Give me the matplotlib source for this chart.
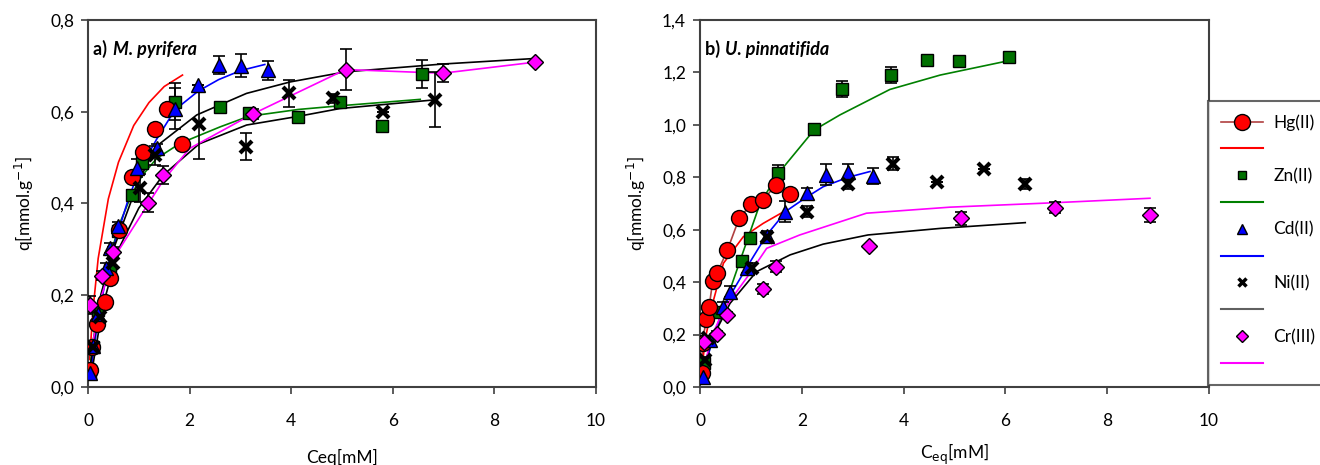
import matplotlib
matplotlib.use("Agg")
import matplotlib.pyplot as plt
from matplotlib.ticker import FuncFormatter, MultipleLocator
from matplotlib.lines import Line2D

plt.rcParams['font.family'] = ['Lato', 'DejaVu Sans']

# ---------------- a) M. pyrifera ----------------
a_hg_x = [0.03, 0.07, 0.17, 0.33, 0.43, 0.62, 0.86, 1.09, 1.32, 1.55, 1.86]
a_hg_y = [0.036, 0.088, 0.137, 0.186, 0.237, 0.342, 0.458, 0.513, 0.562, 0.607, 0.53]
a_hg_e = [0, 0, 0, 0, 0, 0, 0, 0, 0, 0, 0]
a_hg_fx = [0.03, 0.1, 0.2, 0.4, 0.6, 0.9, 1.2, 1.5, 1.86]
a_hg_fy = [0.06, 0.17, 0.28, 0.41, 0.49, 0.57, 0.62, 0.655, 0.68]

a_zn_x = [0.03, 0.1, 0.2, 0.43, 0.6, 0.86, 1.06, 1.71, 2.6, 3.16, 4.14, 4.96, 5.78, 6.57]
a_zn_y = [0.03, 0.088, 0.168, 0.255, 0.34, 0.419, 0.488, 0.622, 0.61, 0.597, 0.588, 0.622, 0.57, 0.682]
a_zn_e = [0, 0, 0, 0.01, 0.01, 0.01, 0.01, 0.04, 0, 0, 0, 0, 0, 0.03]
a_zn_fx = [0.03, 0.1, 0.2, 0.43, 0.6, 0.86, 1.06, 1.35, 1.81, 2.6, 3.16, 4.14, 4.96, 6.54]
a_zn_fy = [0.03, 0.1, 0.17, 0.28, 0.35, 0.42, 0.46, 0.498, 0.531, 0.567, 0.59, 0.605, 0.613, 0.627]

a_cd_x = [0.04, 0.1, 0.2, 0.35, 0.43, 0.6, 0.96, 1.35, 1.71, 2.17, 2.57, 3.01, 3.55]
a_cd_y = [0.03, 0.09, 0.16, 0.26, 0.303, 0.35, 0.477, 0.52, 0.607, 0.658, 0.702, 0.70, 0.69]
a_cd_e = [0, 0, 0, 0.01, 0.01, 0.01, 0.02, 0.01, 0.045, 0, 0.02, 0.025, 0.02]
a_cd_fx = [0.05, 0.2, 0.43, 0.79, 1.0, 1.35, 1.71, 2.17, 2.57, 3.01, 3.48]
a_cd_fy = [0.03, 0.15, 0.28, 0.408, 0.47, 0.54, 0.604, 0.645, 0.67, 0.69, 0.703]

a_ni_x = [0.1, 0.24, 0.5, 1.02, 1.32, 2.19, 3.11, 3.96, 4.82, 5.8, 6.83]
a_ni_y = [0.088, 0.153, 0.27, 0.434, 0.505, 0.573, 0.524, 0.64, 0.629, 0.6, 0.626]
a_ni_e = [0.01, 0.01, 0.01, 0.03, 0.02, 0.075, 0.03, 0.03, 0.01, 0, 0.06]
a_ni_fx = [0.1, 0.3, 0.6, 1.0, 1.48, 2.19, 3.12, 4.14, 4.96, 6.83]
a_ni_fy = [0.05, 0.18, 0.3, 0.39, 0.462, 0.53, 0.571, 0.59, 0.607, 0.626]

a_cr_x = [0.04, 0.27, 0.5, 1.19, 1.48, 3.24, 5.07, 6.98, 8.79]
a_cr_y = [0.179, 0.243, 0.295, 0.402, 0.462, 0.595, 0.692, 0.684, 0.708]
a_cr_e = [0.02, 0.01, 0.01, 0.02, 0.02, 0.01, 0.045, 0.02, 0]
a_cr_fx = [0.1, 0.27, 0.5, 1.19, 1.48, 2.0, 3.24, 5.07, 6.98, 8.79]
a_cr_fy = [0.1, 0.2, 0.28, 0.4, 0.45, 0.52, 0.595, 0.692, 0.684, 0.708]
a_bk_fx = [0.05, 0.25, 0.5, 1.0, 1.35, 2.14, 3.12, 3.98, 5.07, 6.98, 8.78]
a_bk_fy = [0.05, 0.2, 0.3, 0.45, 0.525, 0.593, 0.64, 0.665, 0.687, 0.704, 0.716]

# ---------------- b) U. pinnatifida ----------------
b_hg_x = [0.03, 0.05, 0.12, 0.18, 0.25, 0.34, 0.54, 0.77, 1.01, 1.24, 1.49, 1.77]
b_hg_y = [0.052, 0.167, 0.258, 0.306, 0.405, 0.436, 0.523, 0.644, 0.698, 0.713, 0.771, 0.736]
b_hg_e = [0] * 12
b_hg_fx = [0.03, 0.1, 0.25, 0.46, 0.85, 1.24, 1.7]
b_hg_fy = [0.05, 0.18, 0.32, 0.472, 0.573, 0.624, 0.675]

b_zn_x = [0.07, 0.36, 0.82, 0.98, 1.54, 2.24, 2.78, 3.75, 4.45, 5.09, 6.08]
b_zn_y = [0.093, 0.287, 0.481, 0.567, 0.818, 0.983, 1.136, 1.19, 1.248, 1.245, 1.258]
b_zn_e = [0.01, 0.01, 0.01, 0.01, 0.03, 0.02, 0.03, 0.03, 0, 0, 0]
b_zn_fx = [0.07, 0.26, 0.5, 0.82, 1.18, 1.54, 2.24, 2.75, 3.73, 4.72, 6.07]
b_zn_fy = [0.08, 0.18, 0.32, 0.5, 0.7, 0.815, 0.98, 1.038, 1.135, 1.19, 1.245]

b_cd_x = [0.06, 0.2, 0.45, 0.59, 0.93, 1.31, 1.67, 2.11, 2.48, 2.91, 3.39]
b_cd_y = [0.04, 0.18, 0.306, 0.364, 0.453, 0.575, 0.669, 0.739, 0.809, 0.821, 0.805]
b_cd_e = [0, 0.01, 0.02, 0.02, 0.02, 0.02, 0.04, 0.02, 0.04, 0.03, 0.03]
b_cd_fx = [0.06, 0.2, 0.46, 0.93, 1.31, 1.7, 2.06, 2.42, 2.91, 3.34]
b_cd_fy = [0.04, 0.15, 0.306, 0.46, 0.58, 0.672, 0.72, 0.764, 0.8, 0.822]

b_ni_x = [0.1, 0.16, 1.02, 1.31, 2.11, 2.91, 3.8, 4.66, 5.57, 6.39]
b_ni_y = [0.103, 0.186, 0.453, 0.573, 0.669, 0.775, 0.851, 0.783, 0.83, 0.775]
b_ni_e = [0.01, 0.01, 0.02, 0.02, 0.02, 0.02, 0.025, 0, 0, 0.02]
b_ni_fx = [0.06, 0.2, 0.59, 1.11, 1.77, 2.42, 3.3, 4.72, 6.39]
b_ni_fy = [0.04, 0.17, 0.319, 0.44, 0.504, 0.545, 0.58, 0.605, 0.627]

b_cr_x = [0.07, 0.33, 0.54, 1.23, 1.49, 3.33, 5.12, 6.97, 8.84]
b_cr_y = [0.173, 0.202, 0.275, 0.373, 0.459, 0.538, 0.644, 0.684, 0.656]
b_cr_e = [0.02, 0.01, 0.01, 0.02, 0.02, 0, 0.025, 0.02, 0.025]
b_cr_fx = [0.06, 0.2, 0.46, 0.93, 1.31, 1.96, 3.27, 4.91, 6.97, 8.84]
b_cr_fy = [0.04, 0.18, 0.294, 0.42, 0.529, 0.58, 0.663, 0.686, 0.703, 0.72]

labels = ['Hg(II)', 'Zn(II)', 'Cd(II)', 'Ni(II)', 'Cr(III)']
mk = dict(
    hg=dict(marker='o', ms=11.5, mfc='#ff0000', mec='black', mew=1),
    zn=dict(marker='s', ms=8, mfc='#007000', mec='black', mew=1),
    cd=dict(marker='^', ms=9.5, mfc='#0000ff', mec='black', mew=1),
    ni=dict(marker='x', ms=8, mfc='black', mec='black', mew=3),
    cr=dict(marker='D', ms=8, mfc='#ff00ff', mec='black', mew=1),
)


def pts(ax, x, y, e, style):
    ax.errorbar(x, y, yerr=e, fmt='none', ecolor='black', elinewidth=1.2,
                capsize=4.5, capthick=1.2, zorder=3)
    ax.plot(x, y, ls='none', zorder=4, **style)


def dec(v, pos):
    return ('%.1f' % v).replace('.', ',')


def style_ax(ax, ymax, step):
    ax.set_xlim(0, 10)
    ax.set_ylim(0, ymax)
    ax.xaxis.set_major_locator(MultipleLocator(2))
    ax.yaxis.set_major_locator(MultipleLocator(step))
    ax.yaxis.set_major_formatter(FuncFormatter(dec))
    ax.tick_params(direction='out', length=5, width=1.2, labelsize=12.5,
                   colors='#404040', labelcolor='black')
    ax.tick_params(axis='x', pad=14)
    ax.tick_params(axis='y', pad=5)
    for s in ax.spines.values():
        s.set_color('#404040')
        s.set_linewidth(1.5)


fig = plt.figure(figsize=(13.2, 4.65), dpi=100)
axa = fig.add_axes([88 / 1320, 1 - 387 / 465, 508 / 1320, 367 / 465])
axb = fig.add_axes([700 / 1320, 1 - 387 / 465, 509 / 1320, 367 / 465])

# panel a
axa.plot(a_hg_fx, a_hg_fy, color='#ff0000', lw=1.2, zorder=2)
axa.plot(a_zn_fx, a_zn_fy, color='#008000', lw=1.2, zorder=2)
axa.plot(a_cd_fx, a_cd_fy, color='#0000ff', lw=1.2, zorder=2)
axa.plot(a_ni_fx, a_ni_fy, color='black', lw=1.2, zorder=2)
axa.plot(a_bk_fx, a_bk_fy, color='black', lw=1.2, zorder=2)
axa.plot(a_cr_fx, a_cr_fy, color='#ff00ff', lw=1.2, zorder=2)
pts(axa, a_zn_x, a_zn_y, a_zn_e, mk['zn'])
pts(axa, a_hg_x, a_hg_y, a_hg_e, mk['hg'])
pts(axa, a_cd_x, a_cd_y, a_cd_e, mk['cd'])
pts(axa, a_ni_x, a_ni_y, a_ni_e, mk['ni'])
pts(axa, a_cr_x, a_cr_y, a_cr_e, mk['cr'])
style_ax(axa, 0.8, 0.2)
axa.set_xlabel('Ceq[mM]', fontsize=12.5, labelpad=14)
axa.set_ylabel('q[mmol.g$^{-1}$]', fontsize=12.5, labelpad=10)
axa.text(0.01, 0.905, 'a) ', transform=axa.transAxes, fontsize=13,
         fontweight='bold', ha='left')
axa.text(0.05, 0.905, 'M. pyrifera', transform=axa.transAxes, fontsize=13,
         fontweight='bold', style='italic', ha='left')

# panel b
axb.plot(b_hg_x, b_hg_y, color='#b04040', lw=1.2, zorder=2)
axb.plot(b_hg_fx, b_hg_fy, color='#ff0000', lw=1.2, zorder=2)
axb.plot(b_zn_fx, b_zn_fy, color='#008000', lw=1.2, zorder=2)
axb.plot(b_cd_fx, b_cd_fy, color='#0000ff', lw=1.2, zorder=2)
axb.plot(b_ni_fx, b_ni_fy, color='black', lw=1.2, zorder=2)
axb.plot(b_cr_fx, b_cr_fy, color='#ff00ff', lw=1.2, zorder=2)
pts(axb, b_zn_x, b_zn_y, b_zn_e, mk['zn'])
pts(axb, b_hg_x, b_hg_y, b_hg_e, mk['hg'])
pts(axb, b_cd_x, b_cd_y, b_cd_e, mk['cd'])
pts(axb, b_ni_x, b_ni_y, b_ni_e, mk['ni'])
pts(axb, b_cr_x, b_cr_y, b_cr_e, mk['cr'])
style_ax(axb, 1.4, 0.2)
axb.set_xlabel('C$_{\\mathrm{eq}}$[mM]', fontsize=12.5, labelpad=9)
axb.set_ylabel('q[mmol.g$^{-1}$]', fontsize=12.5, labelpad=10)
axb.text(0.01, 0.905, 'b) ', transform=axb.transAxes, fontsize=13,
         fontweight='bold', ha='left')
axb.text(0.05, 0.905, 'U. pinnatifida', transform=axb.transAxes, fontsize=13,
         fontweight='bold', style='italic', ha='left')

# legend: marker entry then fit line entry for each metal
handles = []
names = []
keys = ['hg', 'zn', 'cd', 'ni', 'cr']
line_cols = ['#ff0000', '#008000', '#0000ff', '#606060', '#ff00ff']
for k, lab, lc in zip(keys, labels, line_cols):
    st = dict(mk[k])
    if k == 'hg':
        handles.append(Line2D([], [], color='#b04040', lw=1.2, **st))
    else:
        st['ms'] = st['ms'] * 0.8
        if k == 'ni':
            st['mew'] = 2.5
        handles.append(Line2D([], [], ls='none', **st))
    names.append(lab)
    handles.append(Line2D([], [], color=lc, lw=1.5))
    names.append(' ')
leg = fig.legend(handles, names, loc='upper left',
                 bbox_to_anchor=(1208 / 1320, 1 - 101 / 465),
                 fontsize=12.5, frameon=True, fancybox=False, edgecolor='#404040',
                 handlelength=2.4, labelspacing=0.62, borderpad=0.75,
                 handletextpad=0.6, borderaxespad=0)
leg.get_frame().set_linewidth(1.5)

fig.savefig('out.png', dpi=100)
